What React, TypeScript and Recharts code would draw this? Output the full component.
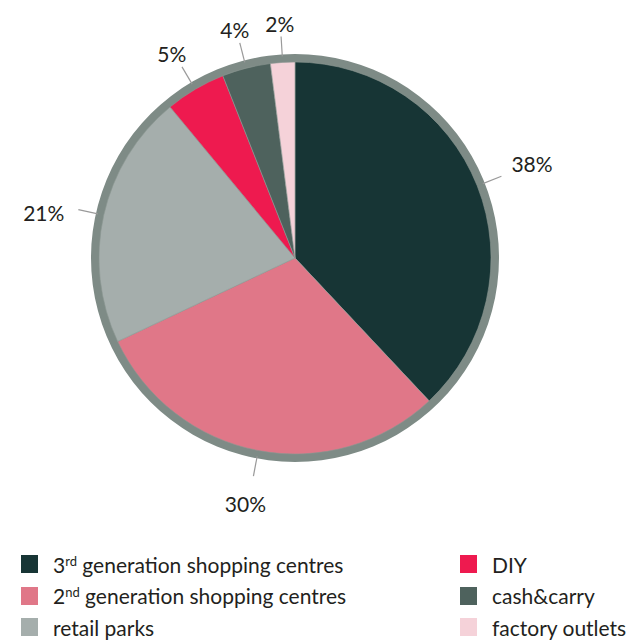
import React from "react";
import { PieChart, Pie, Cell, Legend } from "recharts";

const categories = [
  "3rd generation shopping centres",
  "2nd generation shopping centres",
  "retail parks",
  "DIY",
  "cash&carry",
  "factory outlets",
];
const shares = [38, 30, 21, 5, 4, 2];
const colors = ["#173535", "#e07788", "#a5aeac", "#ee1a4f", "#4e625d", "#f5d2d9"];
const ringColor = "#7e8b86";

const data = categories.map((name, i) => ({ name, value: shares[i] }));
const ringData = [{ name: "ring", value: 1 }];

const FONT = "Lato, 'Open Sans', sans-serif";
const RADIAN = Math.PI / 180;
const RING_OUTER = 204;

const renderLabel = (props: any) => {
  const { cx, cy, midAngle, value } = props;
  const cos = Math.cos(-midAngle * RADIAN);
  const sin = Math.sin(-midAngle * RADIAN);
  const r0 = RING_OUTER - 2;
  const r1 = RING_OUTER + 18;
  const x0 = cx + r0 * cos;
  const y0 = cy + r0 * sin;
  const x1 = cx + r1 * cos;
  const y1 = cy + r1 * sin;
  let anchor: "start" | "end" | "middle" = "middle";
  let tx = x1;
  let ty = y1;
  if (cos > 0.6) {
    anchor = "start";
    tx = x1 + 10;
    ty = y1 - 13;
  } else if (cos < -0.6) {
    anchor = "end";
    tx = x1 - 14;
    ty = y1 + 3;
  } else if (sin > 0) {
    tx = x1 - 8;
    ty = y1 + 27;
  } else {
    tx = x1 + 20 * cos;
    ty = y1 - 13;
  }
  return (
    <g>
      <line x1={x0} y1={y0} x2={x1} y2={y1} stroke="#9a9a9a" strokeWidth={1.2} />
      <text
        x={tx}
        y={ty}
        textAnchor={anchor}
        dominantBaseline="central"
        fontFamily={FONT}
        fontSize={21}
        fill="#231f20"
      >
        {value}%
      </text>
    </g>
  );
};

const renderName = (name: string) => {
  const m = name.match(/^(\d)(st|nd|rd|th)(.*)$/);
  if (!m) return <span>{name}</span>;
  return (
    <span>
      {m[1]}
      <span style={{ fontSize: 13, verticalAlign: 7 }}>{m[2]}</span>
      {m[3]}
    </span>
  );
};

const LegendContent = () => {
  const cols = [
    [0, 1, 2],
    [3, 4, 5],
  ];
  const colLeft = [21, 460];
  return (
    <div style={{ position: "relative", width: 629, height: 100, fontFamily: FONT }}>
      {cols.map((col, ci) =>
        col.map((idx, ri) => (
          <div
            key={idx}
            style={{
              position: "absolute",
              left: colLeft[ci],
              top: ri * 31.5,
              display: "flex",
              alignItems: "center",
              height: 24,
              whiteSpace: "nowrap",
            }}
          >
            <div style={{ width: 17, height: 18, background: colors[idx] }} />
            <div style={{ marginLeft: 15, fontSize: 21, color: "#231f20" }}>
              {renderName(categories[idx])}
            </div>
          </div>
        ))
      )}
    </div>
  );
};

export default function App() {
  return (
    <div>
      <style>{`body{margin:0;background:#fff}`}</style>
      <PieChart width={629} height={641} margin={{ top: 0, right: 0, bottom: 0, left: 0 }}>
        <Pie
          data={ringData}
          dataKey="value"
          cx={295}
          cy={258}
          innerRadius={195}
          outerRadius={RING_OUTER}
          startAngle={90}
          endAngle={-270}
          fill={ringColor}
          stroke="none"
          legendType="none"
          isAnimationActive={false}
        />
        <Pie
          data={data}
          dataKey="value"
          nameKey="name"
          cx={295}
          cy={258}
          outerRadius={196}
          startAngle={90}
          endAngle={-270}
          stroke="#8c9792"
          strokeWidth={0.6}
          label={renderLabel}
          labelLine={false}
          isAnimationActive={false}
        >
          {data.map((d, i) => (
            <Cell key={d.name} fill={colors[i]} />
          ))}
        </Pie>
        <Legend
          content={<LegendContent />}
          wrapperStyle={{ position: "absolute", top: 552, left: 0, width: 629, height: 100 }}
        />
      </PieChart>
    </div>
  );
}
